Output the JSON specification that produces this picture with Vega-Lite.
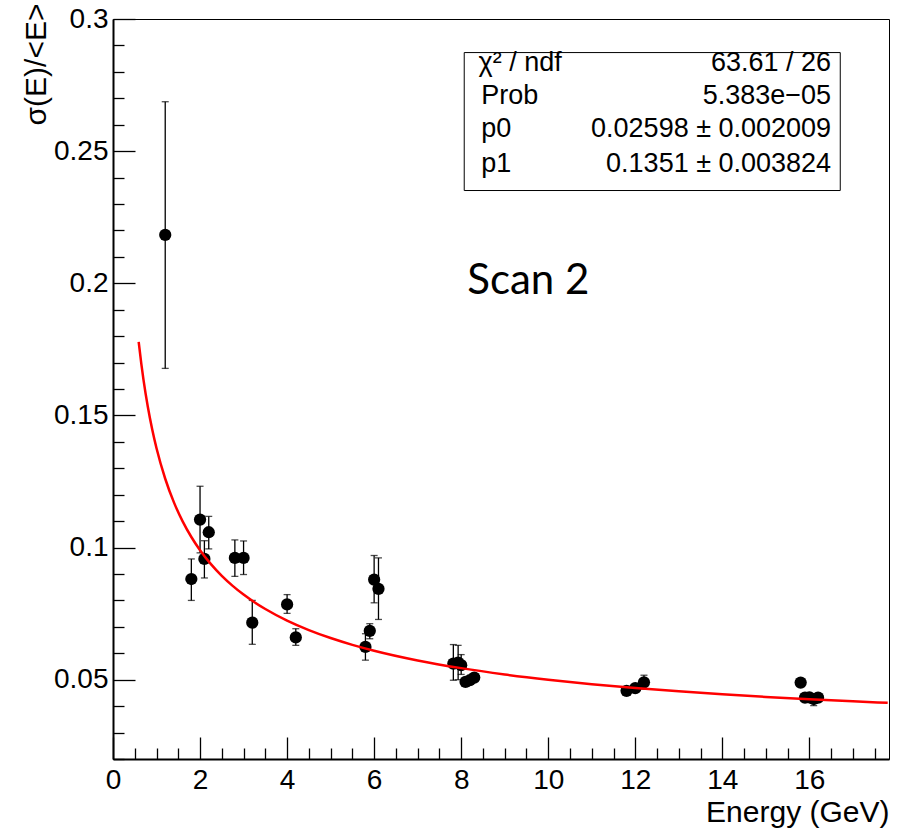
{
  "$schema": "https://vega.github.io/schema/vega-lite/v6.json",
  "width": 776,
  "height": 740,
  "autosize": {"type": "none"},
  "padding": {"left": 113, "top": 19, "right": 8, "bottom": 71},
  "background": "white",
  "config": {
    "view": {"stroke": "black", "strokeWidth": 1},
    "axis": {
      "grid": false,
      "labelFont": "Liberation Sans",
      "titleFont": "Liberation Sans",
      "labelColor": "black",
      "titleColor": "black",
      "tickColor": "black",
      "domainColor": "black",
      "labelFlush": false,
      "labelOverlap": false,
      "titleFontWeight": "normal"
    }
  },
  "datasets": {
    "one": [{}],
    "pts": [
      {"E": 1.2, "r": 0.2183, "lo": 0.1678, "hi": 0.2687},
      {"E": 1.8, "r": 0.0881, "lo": 0.0800, "hi": 0.0957},
      {"E": 2.0, "r": 0.1106, "lo": 0.0980, "hi": 0.1232},
      {"E": 2.1, "r": 0.0957, "lo": 0.0885, "hi": 0.1026},
      {"E": 2.2, "r": 0.1058, "lo": 0.0995, "hi": 0.1118},
      {"E": 2.8, "r": 0.0961, "lo": 0.0891, "hi": 0.1029},
      {"E": 3.0, "r": 0.0961, "lo": 0.0898, "hi": 0.1025},
      {"E": 3.2, "r": 0.0716, "lo": 0.0634, "hi": 0.0800},
      {"E": 4.0, "r": 0.0785, "lo": 0.0751, "hi": 0.0822},
      {"E": 4.2, "r": 0.0660, "lo": 0.0630, "hi": 0.0693},
      {"E": 5.8, "r": 0.0624, "lo": 0.0574, "hi": 0.0674},
      {"E": 5.9, "r": 0.0685, "lo": 0.0655, "hi": 0.0712},
      {"E": 6.0, "r": 0.0879, "lo": 0.0791, "hi": 0.0970},
      {"E": 6.1, "r": 0.0844, "lo": 0.0728, "hi": 0.0961},
      {"E": 7.82, "r": 0.0561, "lo": 0.0498, "hi": 0.0633},
      {"E": 7.93, "r": 0.0565, "lo": 0.0500, "hi": 0.0630},
      {"E": 8.0, "r": 0.0555, "lo": 0.0520, "hi": 0.0595},
      {"E": 8.1, "r": 0.0492, "lo": 0.0478, "hi": 0.0506},
      {"E": 8.2, "r": 0.0498, "lo": 0.0484, "hi": 0.0512},
      {"E": 8.3, "r": 0.0508, "lo": 0.0496, "hi": 0.0520},
      {"E": 11.8, "r": 0.0458, "lo": 0.0450, "hi": 0.0466},
      {"E": 12.0, "r": 0.0468, "lo": 0.0460, "hi": 0.0476},
      {"E": 12.2, "r": 0.0490, "lo": 0.0464, "hi": 0.0517},
      {"E": 15.8, "r": 0.0489, "lo": 0.0482, "hi": 0.0496},
      {"E": 15.9, "r": 0.0432, "lo": 0.0425, "hi": 0.0440},
      {"E": 16.0, "r": 0.0433, "lo": 0.0426, "hi": 0.0440},
      {"E": 16.1, "r": 0.0427, "lo": 0.0402, "hi": 0.0440},
      {"E": 16.2, "r": 0.0432, "lo": 0.0425, "hi": 0.0440}
    ],
    "fit": [
      {"E": 0.59, "f": 0.17780},
      {"E": 0.65, "f": 0.16957},
      {"E": 0.7, "f": 0.16355},
      {"E": 0.8, "f": 0.15327},
      {"E": 0.9, "f": 0.14476},
      {"E": 1.0, "f": 0.13758},
      {"E": 1.2, "f": 0.12604},
      {"E": 1.4, "f": 0.11710},
      {"E": 1.6, "f": 0.10992},
      {"E": 1.8, "f": 0.10400},
      {"E": 2.0, "f": 0.09900},
      {"E": 2.25, "f": 0.09374},
      {"E": 2.5, "f": 0.08931},
      {"E": 2.75, "f": 0.08551},
      {"E": 3.0, "f": 0.08221},
      {"E": 3.5, "f": 0.07675},
      {"E": 4.0, "f": 0.07237},
      {"E": 4.5, "f": 0.06878},
      {"E": 5.0, "f": 0.06577},
      {"E": 5.5, "f": 0.06320},
      {"E": 6.0, "f": 0.06097},
      {"E": 7.0, "f": 0.05729},
      {"E": 8.0, "f": 0.05438},
      {"E": 9.0, "f": 0.05199},
      {"E": 10.0, "f": 0.05000},
      {"E": 11.0, "f": 0.04831},
      {"E": 12.0, "f": 0.04686},
      {"E": 13.0, "f": 0.04560},
      {"E": 14.0, "f": 0.04448},
      {"E": 15.0, "f": 0.04349},
      {"E": 16.0, "f": 0.04261},
      {"E": 17.0, "f": 0.04182},
      {"E": 17.8, "f": 0.04124}
    ]
  },
  "resolve": {"axis": {"x": "independent", "y": "independent"}},
  "layer": [
    {
      "data": {"name": "pts"},
      "mark": {"type": "rule", "color": "black", "strokeWidth": 1.3},
      "encoding": {
        "x": {
          "field": "E", "type": "quantitative",
          "scale": {"domain": [0, 17.83], "nice": false, "zero": false},
          "axis": {
            "orient": "bottom",
            "values": [0.5, 1, 1.5, 2.5, 3, 3.5, 4.5, 5, 5.5, 6.5, 7, 7.5, 8.5, 9, 9.5, 10.5, 11, 11.5, 12.5, 13, 13.5, 14.5, 15, 15.5, 16.5, 17, 17.5],
            "tickSize": -11, "tickWidth": 1.3, "labels": false, "domain": false, "title": null
          }
        },
        "y": {
          "field": "lo", "type": "quantitative",
          "scale": {"domain": [0.02, 0.3], "nice": false, "zero": false},
          "axis": {
            "orient": "left",
            "values": [0.02, 0.03, 0.04, 0.06, 0.07, 0.08, 0.09, 0.11, 0.12, 0.13, 0.14, 0.16, 0.17, 0.18, 0.19, 0.21, 0.22, 0.23, 0.24, 0.26, 0.27, 0.28, 0.29],
            "tickSize": -11, "tickWidth": 1.3, "labels": false, "domain": false, "title": null
          }
        },
        "y2": {"field": "hi"}
      }
    },
    {
      "data": {"name": "pts"},
      "mark": {"type": "tick", "orient": "horizontal", "color": "black", "size": 7, "thickness": 1.3},
      "encoding": {
        "x": {"field": "E", "type": "quantitative", "axis": null},
        "y": {"field": "lo", "type": "quantitative", "axis": null}
      }
    },
    {
      "data": {"name": "pts"},
      "mark": {"type": "tick", "orient": "horizontal", "color": "black", "size": 7, "thickness": 1.3},
      "encoding": {
        "x": {"field": "E", "type": "quantitative", "axis": null},
        "y": {"field": "hi", "type": "quantitative", "axis": null}
      }
    },
    {
      "data": {"name": "pts"},
      "mark": {"type": "circle", "color": "black", "opacity": 1, "size": 150},
      "encoding": {
        "x": {
          "field": "E", "type": "quantitative",
          "axis": {
            "orient": "bottom",
            "values": [0, 2, 4, 6, 8, 10, 12, 14, 16],
            "tickSize": -22, "tickWidth": 1.3, "domainWidth": 2,
            "labelPadding": 29, "labelFontSize": 28,
            "title": "Energy (GeV)", "titleFontSize": 30,
            "titleAnchor": "end", "titleAlign": "right",
            "titleX": 776, "titleY": 62, "titleBaseline": "alphabetic"
          }
        },
        "y": {
          "field": "r", "type": "quantitative",
          "axis": {
            "orient": "left",
            "values": [0.05, 0.1, 0.15, 0.2, 0.25, 0.3],
            "format": "~g",
            "tickSize": -22, "tickWidth": 1.3, "domainWidth": 2,
            "labelPadding": 27, "labelFontSize": 28, "labelBaseline": "middle",
            "title": "σ(E)/<E>", "titleFontSize": 30, "titleAngle": -90,
            "titleX": -68, "titleY": -16, "titleAlign": "right", "titleBaseline": "alphabetic"
          }
        }
      }
    },
    {
      "data": {"name": "fit"},
      "mark": {"type": "line", "color": "#ff0000", "strokeWidth": 2.5, "interpolate": "monotone"},
      "encoding": {
        "x": {"field": "E", "type": "quantitative", "axis": null},
        "y": {"field": "f", "type": "quantitative", "axis": null}
      }
    },
    {
      "data": {"name": "one"},
      "mark": {"type": "rect", "fill": "white", "stroke": "black", "strokeWidth": 1},
      "encoding": {
        "x": {"datum": 8.07, "type": "quantitative", "axis": null},
        "x2": {"datum": 16.71},
        "y": {"datum": 0.2873, "type": "quantitative", "axis": null},
        "y2": {"datum": 0.2351}
      }
    },
    {
      "data": {"name": "one"},
      "mark": {"type": "text", "text": "χ² / ndf", "align": "left", "baseline": "alphabetic", "font": "Liberation Sans", "fontSize": 27, "color": "black"},
      "encoding": {
        "x": {"datum": 8.4, "type": "quantitative", "axis": null},
        "y": {"datum": 0.2803, "type": "quantitative", "axis": null}
      }
    },
    {
      "data": {"name": "one"},
      "mark": {"type": "text", "text": "Prob", "align": "left", "baseline": "alphabetic", "font": "Liberation Sans", "fontSize": 27, "color": "black"},
      "encoding": {
        "x": {"datum": 8.46, "type": "quantitative", "axis": null},
        "y": {"datum": 0.2679, "type": "quantitative", "axis": null}
      }
    },
    {
      "data": {"name": "one"},
      "mark": {"type": "text", "text": "p0", "align": "left", "baseline": "alphabetic", "font": "Liberation Sans", "fontSize": 27, "color": "black"},
      "encoding": {
        "x": {"datum": 8.46, "type": "quantitative", "axis": null},
        "y": {"datum": 0.2553, "type": "quantitative", "axis": null}
      }
    },
    {
      "data": {"name": "one"},
      "mark": {"type": "text", "text": "p1", "align": "left", "baseline": "alphabetic", "font": "Liberation Sans", "fontSize": 27, "color": "black"},
      "encoding": {
        "x": {"datum": 8.46, "type": "quantitative", "axis": null},
        "y": {"datum": 0.2421, "type": "quantitative", "axis": null}
      }
    },
    {
      "data": {"name": "one"},
      "mark": {"type": "text", "text": "63.61 / 26", "align": "right", "baseline": "alphabetic", "font": "Liberation Sans", "fontSize": 27, "color": "black"},
      "encoding": {
        "x": {"datum": 16.5, "type": "quantitative", "axis": null},
        "y": {"datum": 0.2803, "type": "quantitative", "axis": null}
      }
    },
    {
      "data": {"name": "one"},
      "mark": {"type": "text", "text": "5.383e−05", "align": "right", "baseline": "alphabetic", "font": "Liberation Sans", "fontSize": 27, "color": "black"},
      "encoding": {
        "x": {"datum": 16.5, "type": "quantitative", "axis": null},
        "y": {"datum": 0.2679, "type": "quantitative", "axis": null}
      }
    },
    {
      "data": {"name": "one"},
      "mark": {"type": "text", "text": "0.02598 ± 0.002009", "align": "right", "baseline": "alphabetic", "font": "Liberation Sans", "fontSize": 27, "color": "black"},
      "encoding": {
        "x": {"datum": 16.5, "type": "quantitative", "axis": null},
        "y": {"datum": 0.2553, "type": "quantitative", "axis": null}
      }
    },
    {
      "data": {"name": "one"},
      "mark": {"type": "text", "text": "0.1351 ± 0.003824", "align": "right", "baseline": "alphabetic", "font": "Liberation Sans", "fontSize": 27, "color": "black"},
      "encoding": {
        "x": {"datum": 16.5, "type": "quantitative", "axis": null},
        "y": {"datum": 0.2421, "type": "quantitative", "axis": null}
      }
    },
    {
      "data": {"name": "one"},
      "mark": {"type": "text", "text": "Scan 2", "align": "left", "baseline": "alphabetic", "font": "Lato", "fontSize": 42, "color": "black"},
      "encoding": {
        "x": {"datum": 8.14, "type": "quantitative", "axis": null},
        "y": {"datum": 0.1961, "type": "quantitative", "axis": null}
      }
    }
  ]
}
